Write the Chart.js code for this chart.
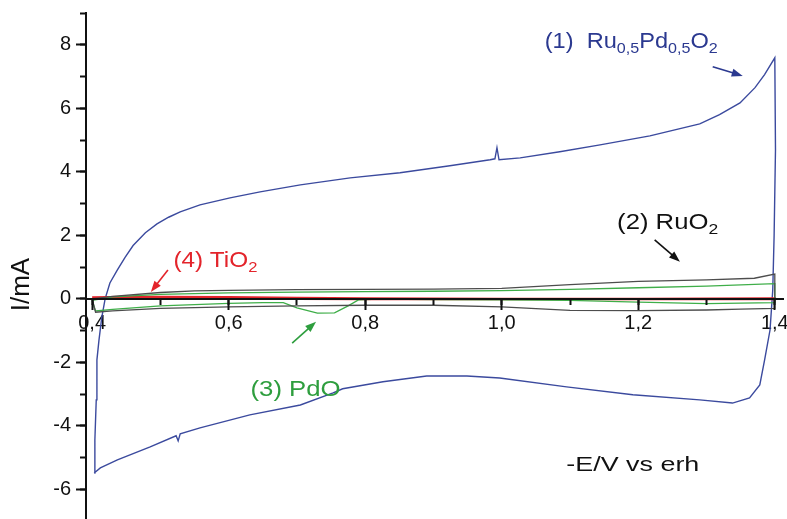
<!DOCTYPE html>
<html>
<head>
<meta charset="utf-8">
<script src="https://cdn.jsdelivr.net/npm/chart.js@4.4.1/dist/chart.umd.min.js"></script>
<style>
  html, body { margin: 0; padding: 0; background: #fff; }
  #wrap { width: 787px; height: 519px; }
</style>
</head>
<body>
<div id="wrap"><canvas id="cv" width="787" height="519"></canvas></div>
<script>
// potencial (V) e corrente (mA)
const ruPdE = [0.403, 0.404, 0.406, 0.407, 0.410, 0.414, 0.419, 0.426, 0.437, 0.448, 0.460, 0.478, 0.495, 0.512, 0.529, 0.558, 0.602, 0.646, 0.705, 0.778, 0.851, 0.924, 0.983, 0.990, 0.993, 0.996, 1.027, 1.085, 1.144, 1.217, 1.290, 1.319, 1.349, 1.371, 1.385, 1.400, 1.401, 1.399, 1.397, 1.393, 1.385, 1.378, 1.363, 1.338, 1.290, 1.192, 1.095, 0.997, 0.949, 0.890, 0.826, 0.767, 0.753, 0.705, 0.631, 0.558, 0.529, 0.526, 0.523, 0.485, 0.437, 0.412, 0.403];
const ruPdI = [-5.48, -4.44, -3.18, -1.92, -1.30, -0.60, 0.00, 0.50, 0.91, 1.30, 1.68, 2.08, 2.36, 2.57, 2.74, 2.96, 3.18, 3.37, 3.59, 3.81, 3.97, 4.19, 4.38, 4.41, 4.76, 4.38, 4.44, 4.63, 4.85, 5.13, 5.51, 5.80, 6.17, 6.65, 7.06, 7.59, 4.70, 2.00, 0.28, -0.98, -1.93, -2.71, -3.12, -3.28, -3.18, -3.02, -2.77, -2.49, -2.43, -2.43, -2.61, -2.83, -2.96, -3.34, -3.65, -4.06, -4.25, -4.47, -4.31, -4.66, -5.07, -5.32, -5.48];

const ruE = [0.40, 0.43, 0.50, 0.55, 0.60, 0.70, 0.80, 0.90, 1.00, 1.10, 1.20, 1.30, 1.37, 1.40, 1.40, 1.35, 1.30, 1.20, 1.10, 1.00, 0.90, 0.80, 0.70, 0.60, 0.50, 0.43, 0.405, 0.40];
const ruI = [0.00, 0.08, 0.20, 0.25, 0.27, 0.29, 0.30, 0.31, 0.33, 0.45, 0.55, 0.60, 0.65, 0.78, -0.30, -0.32, -0.35, -0.37, -0.36, -0.25, -0.20, -0.20, -0.22, -0.25, -0.30, -0.38, -0.42, 0.00];

const pdE = [0.40, 0.43, 0.50, 0.60, 0.70, 0.80, 0.90, 1.00, 1.10, 1.20, 1.30, 1.40, 1.40, 1.30, 1.20, 1.10, 1.00, 0.90, 0.82, 0.79, 0.775, 0.755, 0.73, 0.70, 0.68, 0.65, 0.60, 0.50, 0.43, 0.405, 0.40];
const pdI = [-0.05, 0.06, 0.14, 0.19, 0.21, 0.23, 0.24, 0.26, 0.30, 0.35, 0.40, 0.48, -0.12, -0.15, -0.10, -0.05, -0.03, -0.02, -0.01, -0.03, -0.22, -0.44, -0.45, -0.28, -0.12, -0.12, -0.14, -0.22, -0.33, -0.38, -0.05];

const tiE = [0.40, 0.45, 0.50, 0.60, 0.70, 0.80, 1.00, 1.20, 1.40, 1.40, 1.20, 1.00, 0.80, 0.60, 0.40];
const tiI = [0.04, 0.06, 0.06, 0.05, 0.03, 0.01, 0.00, 0.00, 0.01, 0.00, 0.00, 0.00, 0.00, 0.01, 0.03];

const xMin = 0.391, xMax = 1.412;
const yMin = -6.93, yMax = 9.0;

const FONT = '"Liberation Sans", Arial, Helvetica, sans-serif';

// rótulos das curvas (posição em E / I, largura do texto na figura)
const notes = [
  { e: 1.063, i: 7.9, w: 173, color: '#2b3990', parts: [['(1)  Ru', 0], ['0,5', 1], ['Pd', 0], ['0,5', 1], ['O', 0], ['2', 1]] },
  { e: 1.169, i: 2.2, w: 101, color: '#111', parts: [['(2) RuO', 0], ['2', 1]] },
  { e: 0.632, i: -3.06, w: 90, color: '#2e9e3e', parts: [['(3) PdO', 0]] },
  { e: 0.519, i: 1.0, w: 84, color: '#e3242b', parts: [['(4) TiO', 0], ['2', 1]] }
];
const arrows = [
  { from: [1.309, 7.31], to: [1.353, 7.02], color: '#2b3990' },
  { from: [1.224, 1.86], to: [1.261, 1.17], color: '#111' },
  { from: [0.693, -1.39], to: [0.728, -0.72], color: '#2e9e3e' },
  { from: [0.511, 0.91], to: [0.486, 0.22], color: '#e3242b' }
];

function pts(xs, ys) {
  return xs.map((v, k) => ({ x: v, y: ys[k] }));
}

// sem margens extra dos rótulos: a área do gráfico fica fixa
function noPad(s) {
  s.paddingLeft = 0; s.paddingRight = 0; s.paddingTop = 0; s.paddingBottom = 0;
}

const partFont = sub => (sub ? '15px ' : '22px ') + FONT;

const annotPlugin = {
  id: 'annot',
  afterDraw(chart) {
    const { ctx, scales: { x, y } } = chart;
    ctx.save();
    ctx.textAlign = 'left';
    ctx.textBaseline = 'alphabetic';
    notes.forEach(n => {
      let natural = 0;
      n.parts.forEach(([t, sub]) => { ctx.font = partFont(sub); natural += ctx.measureText(t).width; });
      ctx.save();
      ctx.translate(x.getPixelForValue(n.e), y.getPixelForValue(n.i));
      ctx.scale(n.w / natural, 1);
      ctx.fillStyle = n.color;
      let px = 0;
      n.parts.forEach(([t, sub]) => {
        ctx.font = partFont(sub);
        ctx.fillText(t, px, sub ? 5 : 0);
        px += ctx.measureText(t).width;
      });
      ctx.restore();
    });
    arrows.forEach(a => {
      const x1 = x.getPixelForValue(a.from[0]), y1 = y.getPixelForValue(a.from[1]);
      const x2 = x.getPixelForValue(a.to[0]), y2 = y.getPixelForValue(a.to[1]);
      const ang = Math.atan2(y2 - y1, x2 - x1);
      const c = Math.cos(ang), s = Math.sin(ang);
      ctx.strokeStyle = a.color;
      ctx.fillStyle = a.color;
      ctx.lineWidth = 1.6;
      ctx.beginPath();
      ctx.moveTo(x1, y1);
      ctx.lineTo(x2 - 8 * c, y2 - 8 * s);
      ctx.stroke();
      ctx.beginPath();
      ctx.moveTo(x2, y2);
      ctx.lineTo(x2 - 11 * c + 4 * s, y2 - 11 * s - 4 * c);
      ctx.lineTo(x2 - 11 * c - 4 * s, y2 - 11 * s + 4 * c);
      ctx.closePath();
      ctx.fill();
    });

    // títulos dos eixos
    ctx.fillStyle = '#111';
    ctx.font = '26px ' + FONT;
    ctx.textAlign = 'center';
    ctx.textBaseline = 'middle';
    ctx.save();
    ctx.translate(chart.chartArea.left - 64, y.getPixelForValue(0.45));
    ctx.rotate(-Math.PI / 2);
    ctx.fillText('I/mA', 0, 0);
    ctx.restore();

    ctx.font = '20px ' + FONT;
    const label = '-E/V vs erh';
    const w = ctx.measureText(label).width;
    ctx.save();
    ctx.translate(x.getPixelForValue(1.192), y.getPixelForValue(-5.26));
    ctx.scale(133 / w, 1);
    ctx.fillText(label, 0, 0);
    ctx.restore();
    ctx.restore();
  }
};

const line = { showLine: true, pointRadius: 0, borderWidth: 1.3, tension: 0, fill: false };

new Chart(document.getElementById('cv'), {
  type: 'scatter',
  data: {
    datasets: [
      { ...line, label: '(2) RuO2', data: pts(ruE, ruI), borderColor: '#4d4d4d' },
      { ...line, label: '(3) PdO', data: pts(pdE, pdI), borderColor: '#3fae49' },
      { ...line, label: '(4) TiO2', data: pts(tiE, tiI), borderColor: '#e3242b', borderWidth: 2.5 },
      { ...line, label: '(1) Ru0,5Pd0,5O2', data: pts(ruPdE, ruPdI), borderColor: '#3b4a9e', borderWidth: 1.4 }
    ]
  },
  options: {
    responsive: false,
    animation: false,
    devicePixelRatio: 1,
    layout: { padding: { left: 0, right: 4, top: 13, bottom: 0 } },
    plugins: { legend: { display: false }, tooltip: { enabled: false } },
    scales: {
      x: {
        type: 'linear', min: xMin, max: xMax, position: { y: 0 },
        border: { display: true, color: '#111', width: 2, z: 1 },
        grid: { drawOnChartArea: false, drawTicks: true, tickLength: 10, tickColor: '#111', tickWidth: 2, z: 1 },
        ticks: {
          stepSize: 0.2, includeBounds: false, padding: 3, color: '#111',
          font: { family: FONT, size: 20 },
          callback: v => v.toFixed(1).replace('.', ',')
        },
        afterFit: noPad
      },
      xMinor: {
        type: 'linear', axis: 'x', min: xMin, max: xMax, position: { y: 0 },
        border: { display: false },
        grid: { drawOnChartArea: false, drawTicks: true, tickLength: 6, tickColor: '#111', tickWidth: 2, z: 1 },
        ticks: { stepSize: 0.1, includeBounds: false, display: false },
        afterFit: noPad
      },
      y: {
        type: 'linear', min: yMin, max: yMax, position: 'left',
        border: { display: true, color: '#111', width: 2 },
        grid: { drawOnChartArea: false, drawTicks: true, tickLength: 10, tickColor: '#111', tickWidth: 2 },
        ticks: {
          stepSize: 2, includeBounds: false, padding: 5, color: '#111',
          font: { family: FONT, size: 20 },
          callback: v => String(v)
        },
        afterFit: s => { s.width = 86; noPad(s); }
      },
      yMinor: {
        type: 'linear', axis: 'y', min: yMin, max: yMax, position: { x: xMin },
        border: { display: false },
        grid: { drawOnChartArea: false, drawTicks: true, tickLength: 6, tickColor: '#111', tickWidth: 2 },
        ticks: { stepSize: 1, includeBounds: false, display: false },
        afterFit: noPad
      }
    }
  },
  plugins: [annotPlugin]
});
</script>
</body>
</html>
